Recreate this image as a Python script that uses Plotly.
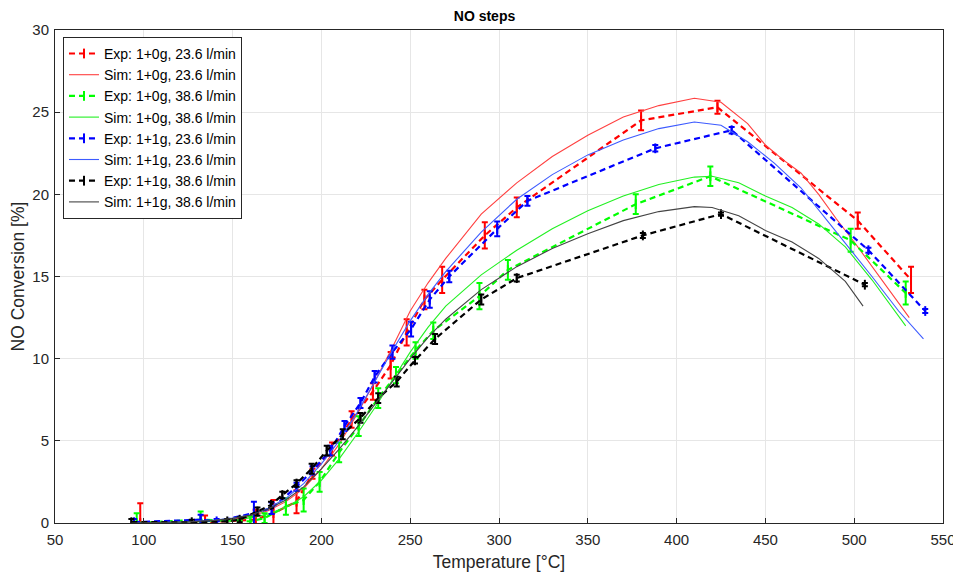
import plotly.graph_objects as go

# ---------------- data ----------------
# Exp: 1+0g, 23.6 l/min (red)
exp_r_T = [98, 134.5, 163, 173, 186, 195, 206, 217, 229, 239, 248, 258, 268, 292, 310, 380, 423, 502, 532]
exp_r_V = [0.0, 0.05, 0.2, 0.6, 1.3, 3.0, 4.5, 6.3, 8.0, 9.6, 11.6, 13.6, 14.8, 17.5, 19.2, 24.5, 25.3, 18.4, 14.8]
exp_r_E = [1.2, 0.4, 0.6, 0.8, 0.7, 0.3, 0.4, 0.5, 0.5, 0.8, 0.8, 0.6, 0.8, 0.8, 0.6, 0.6, 0.4, 0.5, 0.8]

# Exp: 1+0g, 38.6 l/min (green)
exp_g_T = [96, 132, 160, 168, 180, 190, 199, 210, 221, 232, 242, 253, 263, 289, 305, 377, 419, 498, 529]
exp_g_V = [0.0, 0.2, 0.1, 0.3, 1.0, 1.4, 2.5, 4.3, 5.9, 7.6, 9.0, 10.5, 11.7, 13.8, 15.4, 19.4, 21.1, 17.2, 14.0]
exp_g_E = [0.6, 0.5, 0.3, 0.3, 0.5, 0.7, 0.6, 0.6, 0.6, 0.6, 0.5, 0.5, 0.5, 0.8, 0.6, 0.6, 0.6, 0.7, 0.7]

# Exp: 1+1g, 23.6 l/min (blue)
exp_b_T = [94.5, 132, 141, 162, 172, 186, 195, 205, 213, 222, 230, 240, 250.5, 261, 272, 299, 316, 388, 431, 508, 540]
exp_b_V = [0.05, 0.2, 0.1, 0.6, 0.9, 2.2, 3.2, 4.4, 5.9, 7.3, 8.9, 10.4, 11.8, 13.6, 15.0, 17.9, 19.6, 22.8, 23.9, 16.6, 12.9]
exp_b_E = [0.2, 0.3, 0.15, 0.7, 0.35, 0.25, 0.25, 0.3, 0.3, 0.3, 0.35, 0.4, 0.45, 0.5, 0.35, 0.45, 0.3, 0.2, 0.2, 0.15, 0.12]

# Exp: 1+1g, 38.6 l/min (black)
exp_k_T = [93, 127, 147, 154, 164, 171.6, 178, 186, 194.5, 203, 212, 222, 232, 242.4, 252.7, 264, 290, 310, 381, 425, 506]
exp_k_V = [0.05, 0.05, 0.1, 0.2, 0.7, 1.1, 1.7, 2.4, 3.3, 4.4, 5.4, 6.4, 7.6, 8.6, 9.9, 11.2, 13.6, 14.9, 17.5, 18.8, 14.5]
exp_k_E = [0.2, 0.15, 0.15, 0.15, 0.25, 0.2, 0.2, 0.2, 0.3, 0.3, 0.3, 0.3, 0.3, 0.3, 0.2, 0.3, 0.3, 0.2, 0.15, 0.1, 0.1]

# Simulations
sim_r_T = [95, 110, 125, 140, 150, 160, 170, 180, 190, 200, 210, 220, 230, 240, 250, 260, 270, 290, 310,
           330, 350, 370, 390, 410, 425, 440, 450, 460, 470, 480, 490, 500, 510, 520, 531]
sim_r_V = [0.0, 0.02, 0.05, 0.12, 0.22, 0.4, 0.75, 1.3, 2.1, 3.3, 4.8, 6.6, 8.6, 10.7, 12.9, 14.6, 16.1, 18.8, 20.7,
           22.3, 23.6, 24.7, 25.4, 25.85, 25.6, 24.3, 23.0, 22.1, 21.3, 20.0, 18.5, 17.1, 15.6, 14.1, 12.5]

sim_g_T = [96, 110, 125, 140, 150, 160, 170, 180, 190, 200, 210, 220, 230, 240, 250, 260, 270, 290, 310,
           330, 350, 370, 390, 410, 420, 435, 450, 465, 480, 495, 510, 529]
sim_g_V = [0.0, 0.02, 0.05, 0.1, 0.18, 0.3, 0.55, 0.95, 1.6, 2.6, 3.9, 5.4, 7.0, 8.7, 10.4, 11.9, 13.2, 15.1, 16.6,
           17.9, 19.0, 19.9, 20.6, 21.05, 21.1, 20.7, 19.9, 19.2, 18.2, 16.8, 14.8, 12.0]

sim_b_T = [93, 110, 125, 140, 150, 160, 170, 180, 190, 200, 210, 220, 230, 240, 250, 260, 270, 290, 310,
           330, 350, 370, 390, 410, 425, 440, 455, 470, 490, 510, 525, 539]
sim_b_V = [0.0, 0.03, 0.08, 0.18, 0.3, 0.5, 0.9, 1.5, 2.4, 3.6, 5.0, 6.7, 8.6, 10.5, 12.3, 13.9, 15.3, 17.7, 19.7,
           21.2, 22.4, 23.3, 24.0, 24.4, 24.2, 23.2, 21.9, 20.4, 17.7, 15.0, 12.9, 11.2]

sim_k_T = [93, 110, 125, 140, 150, 160, 170, 180, 190, 200, 210, 220, 230, 240, 250, 260, 270, 290, 310,
           330, 350, 370, 390, 410, 420, 435, 450, 465, 480, 495, 505]
sim_k_V = [0.0, 0.03, 0.07, 0.16, 0.28, 0.48, 0.85, 1.4, 2.2, 3.3, 4.5, 5.8, 7.2, 8.6, 10.0, 11.3, 12.4, 14.2, 15.6,
           16.7, 17.6, 18.4, 18.95, 19.25, 19.2, 18.7, 17.8, 17.1, 16.1, 14.7, 13.2]

x_ticks = [50, 100, 150, 200, 250, 300, 350, 400, 450, 500, 550]
y_ticks = [0, 5, 10, 15, 20, 25, 30]

# ---------------- figure ----------------
FONT = "Liberation Sans, Arial, Helvetica, sans-serif"
AX = "#262626"

series = [
    ("Exp: 1+0g, 23.6 l/min", exp_r_T, exp_r_V, exp_r_E, "Sim: 1+0g, 23.6 l/min", sim_r_T, sim_r_V, "#ff0000", "#ff4040"),
    ("Exp: 1+0g, 38.6 l/min", exp_g_T, exp_g_V, exp_g_E, "Sim: 1+0g, 38.6 l/min", sim_g_T, sim_g_V, "#00ff00", "#22f022"),
    ("Exp: 1+1g, 23.6 l/min", exp_b_T, exp_b_V, exp_b_E, "Sim: 1+1g, 23.6 l/min", sim_b_T, sim_b_V, "#0000ff", "#3d5bff"),
    ("Exp: 1+1g, 38.6 l/min", exp_k_T, exp_k_V, exp_k_E, "Sim: 1+1g, 38.6 l/min", sim_k_T, sim_k_V, "#000000", "#444444"),
]

fig = go.Figure()
for en, ex, ey, ee, sn, sx, sy, c, sc in series:
    fig.add_trace(go.Scatter(
        x=ex, y=ey, name=en, mode="lines+markers",
        line=dict(color=c, width=2.2, dash="6px,4px"),
        marker=dict(symbol="line-ns", size=7, color=c, line=dict(color=c, width=2)),
        error_y=dict(type="data", array=ee, visible=True, color=c, thickness=2, width=3),
    ))
    fig.add_trace(go.Scatter(
        x=sx, y=sy, name=sn, mode="lines",
        line=dict(color=sc, width=1.1),
    ))

# page has an 8px body margin, so the figure is sized to fit the 961x577 window
fig.update_layout(
    width=953, height=569,
    margin=dict(l=47, r=18, t=22, b=54),
    paper_bgcolor="white", plot_bgcolor="white",
    font=dict(family=FONT, size=15, color=AX),
    title=dict(text="<b>NO steps</b>", x=0.5, xanchor="center", y=0.994, yanchor="top",
               font=dict(family=FONT, size=14, color="#000000")),
    showlegend=True,
    legend=dict(x=0.009, y=0.986, xanchor="left", yanchor="top",
                bgcolor="white", bordercolor=AX, borderwidth=1,
                font=dict(family=FONT, size=14, color="#000000"),
                tracegroupgap=0, itemwidth=30, traceorder="normal"),
)
fig.update_xaxes(
    range=[50, 550], tickvals=x_ticks, ticktext=[str(v) for v in x_ticks],
    showgrid=True, gridcolor="#e6e6e6", gridwidth=1,
    showline=True, linecolor=AX, linewidth=1, mirror=True,
    ticks="inside", ticklen=5, tickcolor=AX, zeroline=False, automargin=False,
    ticklabelstandoff=3,
    title=dict(text="Temperature [°C]", font=dict(family=FONT, size=17.5, color=AX), standoff=8),
    tickfont=dict(family=FONT, size=15, color=AX),
)
fig.update_yaxes(
    range=[0, 30], tickvals=y_ticks, ticktext=[str(v) for v in y_ticks],
    showgrid=True, gridcolor="#e6e6e6", gridwidth=1,
    showline=True, linecolor=AX, linewidth=1, mirror=True,
    ticks="inside", ticklen=5, tickcolor=AX, zeroline=False, automargin=False,
    ticklabelstandoff=2,
    title=dict(text="NO Conversion [%]", font=dict(family=FONT, size=17.5, color=AX), standoff=4),
    tickfont=dict(family=FONT, size=15, color=AX),
)

fig.write_html("out.html")
